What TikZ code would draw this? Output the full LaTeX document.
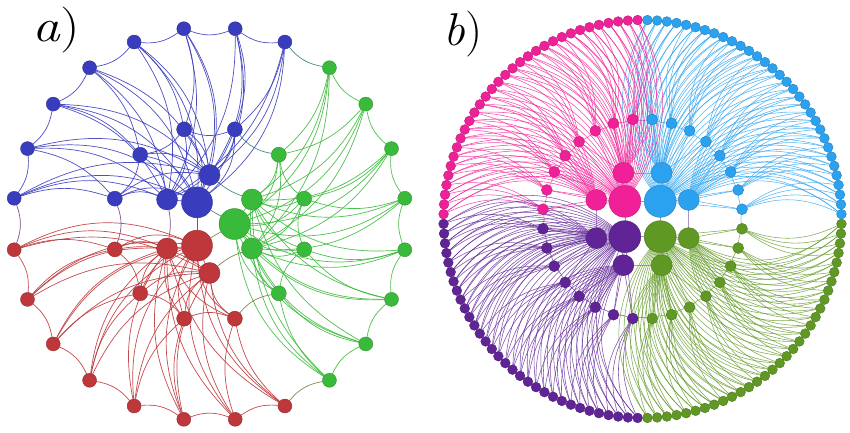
\documentclass[tikz,border=0pt]{standalone}
\usetikzlibrary{backgrounds}
\definecolor{ablue}{RGB}{58,60,190}
\definecolor{ared}{RGB}{190,55,58}
\definecolor{agreen}{RGB}{58,186,58}
\definecolor{bpink}{RGB}{240,32,152}
\definecolor{bblue}{RGB}{42,162,240}
\definecolor{bpurple}{RGB}{96,36,150}
\definecolor{bgreen}{RGB}{96,152,36}
\definecolor{lattice}{RGB}{175,150,200}
\tikzset{
  dot/.style={circle,inner sep=0pt,outer sep=0pt,minimum size=#1,line width=0.35pt},
  aedge/.style={line width=0.7pt,draw=#1,draw opacity=0.9},
  bedge/.style={line width=0.55pt,draw=#1,draw opacity=0.8},
  latt/.style={line width=0.6pt,draw=lattice},
  lbl/.style={inner sep=0pt,font=\fontsize{46}{50}\selectfont}
}
\begin{document}
\begin{tikzpicture}[x=1pt,y=-1pt]
\useasboundingbox (0,0) rectangle (850,432);
\node[lbl] (la) at (56,30) {\scalebox{1.2}[1]{\textit{a})}};
\node[lbl] (lb) at (463,34) {\scalebox{1.05}[1]{\textit{b})}};
% ================= panel a : nodes
\foreach \m/\col in {0/agreen,1/ablue,2/ared}{
  \pgfmathsetmacro\ang{120*\m}
  \node[dot=31pt,fill=\col,draw=\col!75!black] (ah\m) at ({209.5+25*cos(\ang)},{224-25*sin(\ang)}) {};
  \foreach \j in {0,1}{
    \pgfmathsetmacro\ang{120*\m-30+60*\j}
    \node[dot=21pt,fill=\col,draw=\col!75!black] (am\m-\j) at ({209.5+49*cos(\ang)},{224-49*sin(\ang)}) {};
  }
  \foreach \k in {0,...,3}{
    \pgfmathsetmacro\ang{120*\m-45+30*\k}
    \node[dot=15pt,fill=\col,draw=\col!75!black] (ai\m-\k) at ({209.5+98*cos(\ang)},{224-98*sin(\ang)}) {};
  }
  \foreach \l in {0,...,7}{
    \pgfmathsetmacro\ang{120*\m-52.5+15*\l}
    \node[dot=14pt,fill=\col,draw=\col!75!black] (ao\m-\l) at ({209.5+197*cos(\ang)},{224-197*sin(\ang)}) {};
  }
}
% ================= panel b : nodes
\foreach \q/\col/\c in {0/bblue/45,1/bpink/135,2/bpurple/225,3/bgreen/315}{
  \node[dot=32pt,fill=\col,draw=\col!75!black] (bh\q) at ({642.5+25*cos(\c)},{219-25*sin(\c)}) {};
  \foreach \j in {0,1}{
    \pgfmathsetmacro\ang{\c-22.5+45*\j}
    \node[dot=21pt,fill=\col,draw=\col!75!black] (bm\q-\j) at ({642.5+50*cos(\ang)},{219-50*sin(\ang)}) {};
  }
  \foreach \k in {0,...,7}{
    \pgfmathsetmacro\ang{\c-39.375+11.25*\k}
    \node[dot=11pt,fill=\col,draw=\col!75!black] (bs\q-\k) at ({642.5+100*cos(\ang)},{219-100*sin(\ang)}) {};
  }
  \foreach \l in {0,...,31}{
    \pgfmathsetmacro\ang{\c-43.59375+2.8125*\l}
    \node[dot=9.8pt,fill=\col,draw=\col!75!black] (bo\q-\l) at ({642.5+199*cos(\ang)},{219-199*sin(\ang)}) {};
  }
}
% ================= edges
\begin{scope}[on background layer]
% panel a
\foreach \m/\col/\n/\ncol in {0/agreen/1/ablue,1/ablue/2/ared,2/ared/0/agreen}{
  \foreach \l in {0,...,7}{
    \pgfmathtruncatemacro\k{\l/2}
    \draw[aedge=\col] (ao\m-\l) to[bend left=18] (ai\m-\k);
    \draw[aedge=\col] (ao\m-\l) to[bend left=22] (am\m-0);
    \draw[aedge=\col] (ao\m-\l) to[bend left=22] (am\m-1);
    \draw[aedge=\col] (ao\m-\l) to[bend left=25] (ah\m);
  }
  \foreach \k in {0,...,3}{
    \draw[aedge=\col] (ai\m-\k) to[bend left=22] (am\m-0);
    \draw[aedge=\col] (ai\m-\k) to[bend left=22] (am\m-1);
    \draw[aedge=\col] (ai\m-\k) to[bend left=25] (ah\m);
  }
  \foreach \j in {0,1}{\draw[aedge=\col] (am\m-\j) -- (ah\m);}
  \foreach \l [count=\p from 1] in {0,...,6}{\draw[aedge=\col] (ao\m-\l) to[bend left=20] (ao\m-\p);}
  \foreach \k [count=\p from 1] in {0,...,2}{\draw[aedge=\col] (ai\m-\k) to[bend left=20] (ai\m-\p);}
  \draw[aedge=\col!50!\ncol] (ao\m-7) to[bend left=20] (ao\n-0);
  \draw[aedge=\col!50!\ncol] (ai\m-3) to[bend left=20] (ai\n-0);
  \draw[aedge=\col!50!\ncol] (am\m-1) to[bend left=10] (am\n-0);
  \draw[aedge=\col!50!\ncol] (ah\m) -- (ah\n);
}
% panel b
\foreach \q/\col/\n/\ncol/\bn/\bs in {0/bblue/1/bpink/-32/-22,1/bpink/2/bpurple/32/22,2/bpurple/3/bgreen/36/22,3/bgreen/0/bblue/36/22}{
  \foreach \l in {0,...,31}{
    \pgfmathtruncatemacro\k{\l/4}
    \pgfmathtruncatemacro\j{\l/16}
    \draw[bedge=\col] (bo\q-\l) to[bend left=\bn] (bh\q);
    \draw[bedge=\col] (bo\q-\l) to[bend left=\bn] (bm\q-\j);
    \draw[bedge=\col] (bo\q-\l) to[bend left=\bs] (bs\q-\k);
  }
  \foreach \k in {0,...,7}{
    \pgfmathtruncatemacro\j{\k/4}
    \draw[bedge=\col] (bs\q-\k) -- (bm\q-\j);
    \draw[bedge=\col] (bs\q-\k) -- (bh\q);
  }
  \foreach \k [count=\p from 1] in {0,...,6}{\draw[bedge=\col] (bs\q-\k) to[bend left=8] (bs\q-\p);}
  \draw[bedge=\col!50!\ncol] (bs\q-7) to[bend left=8] (bs\n-0);
  \foreach \j in {0,1}{\draw[latt] (bm\q-\j) -- (bh\q);}
  \draw[latt] (bh\q) -- (bh\n);
  \draw[latt] (bm\q-1) -- (bm\n-0);
}
\end{scope}
\end{tikzpicture}
\end{document}
